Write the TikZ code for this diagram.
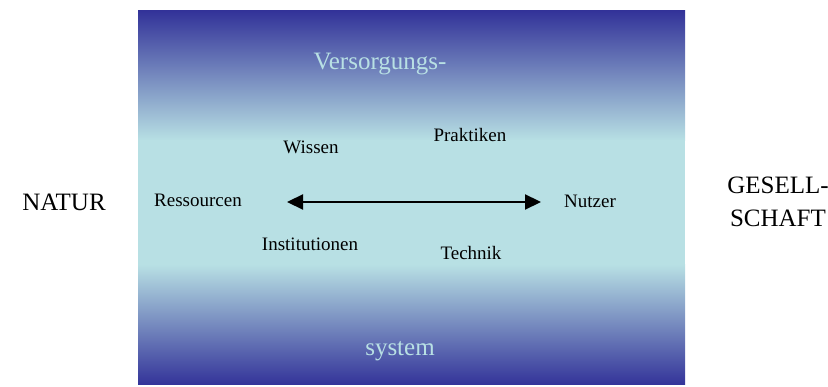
\documentclass[tikz,border=0pt]{standalone}
\usepackage{fontspec}
\setmainfont{Liberation Serif}
\usepackage{tikz}
\usetikzlibrary{arrows.meta,shapes}
\definecolor{deepblue}{RGB}{51,51,153}
\definecolor{midblue}{RGB}{120,145,190}
\definecolor{paleaqua}{RGB}{184,224,228}
\tikzstyle{term}=[inner sep=0pt
,font=\fontsize{19}{21}\selectfont
]
\tikzstyle{side}=[inner sep=0pt, align=center
,font=\fontsize{25}{33}\selectfont
]
\tikzstyle{title}=[inner sep=0pt, text=paleaqua
,font=\fontsize{25}{28}\selectfont
]
\tikzstyle{edge} = [draw,line width=2.2pt,{Triangle[length=16pt,width=15pt]}-{Triangle[length=16pt,width=15pt]}]

\begin{document}
\begin{tikzpicture}[x=1pt,y=-1pt]
    \useasboundingbox (0,0) rectangle (828,387);
    % The shaded box of the system
    \shade[top color=deepblue, bottom color=paleaqua] (138,11) rectangle (685,140.5);
    \shade[top color=paleaqua, bottom color=deepblue] (138,264.5) rectangle (685,385);
    \fill[paleaqua] (138,140) rectangle (685,265);
    % Title of the box
    \node[title] (top) at (380,64) {Versorgungs-};
    \node[title] (bottom) at (400,351) {system};
    % The terms inside
    \foreach \pos/\name/\txt in {{(198,200)/res/Ressourcen}, {(590,201)/nutz/Nutzer}, {(311,147)/wiss/Wissen}, {(470,135)/prak/Praktiken}, {(310,244)/inst/Institutionen}, {(471,253)/tech/Technik}}
        \node[term] (\name) at \pos {\txt};
    % The two sides
    \node[side] (natur) at (64,202) {NATUR};
    \node[side] (gesell) at (778,202) {GESELL-\\SCHAFT};
    % Connect with the arrow
    \coordinate (l) at (287,202);
    \coordinate (r) at (541,202);
    \path[edge] (l) -- (r);
\end{tikzpicture}
\end{document}
